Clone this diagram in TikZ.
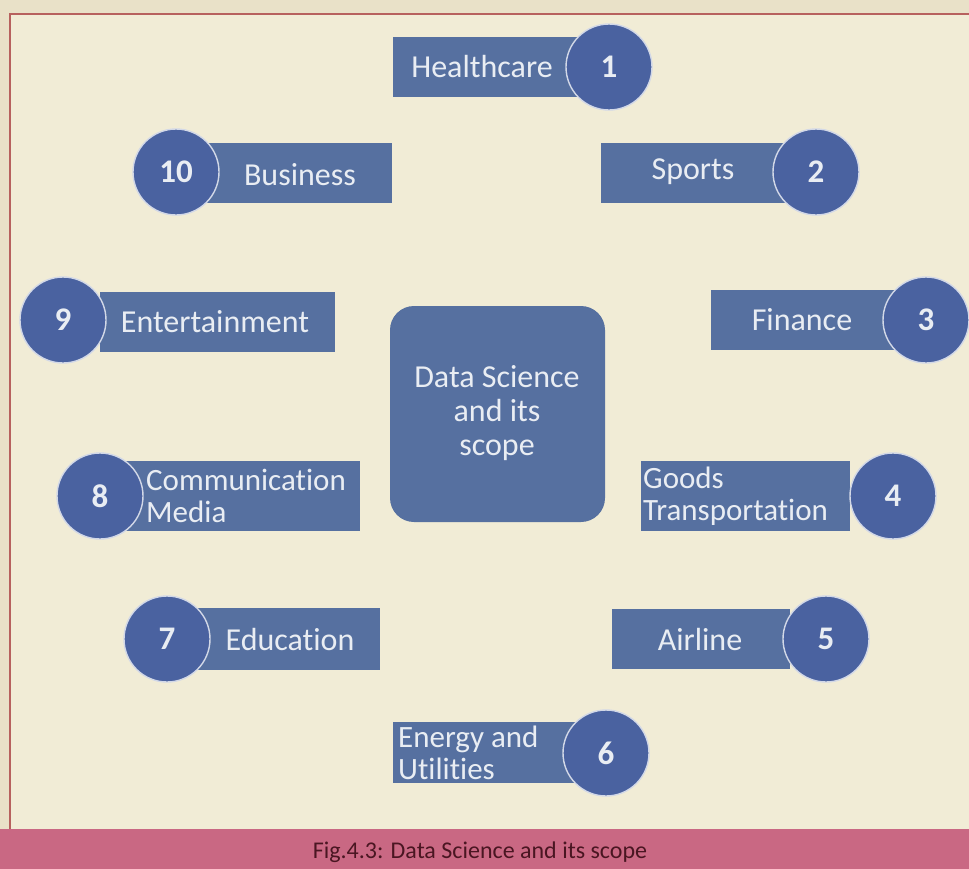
\documentclass[tikz,border=0pt]{standalone}
\usepackage{fontspec}
\setmainfont[Ligatures=NoCommon]{Carlito}
\definecolor{bg}{HTML}{F1ECD6}
\definecolor{bgout}{HTML}{E9E1C8}
\definecolor{boxc}{HTML}{5670A0}
\definecolor{circc}{HTML}{4A62A0}
\definecolor{framec}{HTML}{B7615E}
\definecolor{capbar}{HTML}{C96883}
\definecolor{captext}{HTML}{4A1622}
\definecolor{txt}{HTML}{E9EDF3}
\tikzset{
  bar/.style={fill=boxc, draw=none},
  numc/.style={circle, fill=circc, draw=white!75!circc, line width=1.4pt, minimum size=86pt, inner sep=0pt, text=txt, font=\fontsize{33}{33}\selectfont\bfseries},
  lbl/.style={text=txt, font=\fontsize{32}{32}\selectfont, inner sep=0pt},
  lbl2/.style={lbl, align=left, font=\fontsize{31}{32}\selectfont},
}
\begin{document}
\begin{tikzpicture}[x=1pt,y=-1pt]
\path[use as bounding box, fill=bgout] (0,0) rectangle (969,868);
\fill[bg] (10,14) rectangle (969,830);
\draw[framec, line width=2pt] (10,830) -- (10,14) -- (969,14);
% caption
\node[fill=capbar, minimum width=969pt, minimum height=40pt, inner sep=0pt, anchor=north west] (cap) at (0,829) {};
\node[text=captext, font=\fontsize{24}{24}\selectfont, inner sep=0pt] (captxt) at (480,852) {Fig.4.3: Data Science and its scope};
% center
\node[bar, rounded corners=24pt, minimum width=215pt, minimum height=216pt, inner sep=0pt] (center) at (497.5,414) {};
\node[lbl, align=center, font=\fontsize{32}{34}\selectfont] (centertxt) at (497,413) {Data Science\\and its\\scope};
% 1 Healthcare
\node[bar, minimum width=187pt, minimum height=60pt, inner sep=0pt] (r1) at (486.5,67) {};
\node[numc] (c1) at (609,67) {1};
\node[lbl] (t1) at (482,67) {Healthcare};
% 2 Sports
\node[bar, minimum width=189pt, minimum height=60pt, inner sep=0pt] (r2) at (695.5,173) {};
\node[numc] (c2) at (816,172) {2};
\node[lbl] (t2) at (693,172) {Sports};
% 3 Finance
\node[bar, minimum width=189pt, minimum height=60pt, inner sep=0pt] (r3) at (805.5,320) {};
\node[numc] (c3) at (926,320) {3};
\node[lbl] (t3) at (802,320) {Finance};
% 4 Goods Transportation
\node[bar, minimum width=209pt, minimum height=70pt, inner sep=0pt] (r4) at (745.5,496) {};
\node[numc] (c4) at (893,496) {4};
\node[lbl2, anchor=west] (t4) at (643,496) {Goods\\Transportation};
% 5 Airline
\node[bar, minimum width=178pt, minimum height=60pt, inner sep=0pt] (r5) at (701,639) {};
\node[numc] (c5) at (826,639) {5};
\node[lbl] (t5) at (700,639) {Airline};
% 6 Energy and Utilities
\node[bar, minimum width=182pt, minimum height=61pt, inner sep=0pt] (r6) at (484,752.5) {};
\node[numc] (c6) at (606,753) {6};
\node[lbl2, anchor=west] (t6) at (398,753) {Energy and\\Utilities};
% 7 Education
\node[bar, minimum width=190pt, minimum height=62pt, inner sep=0pt] (r7) at (285,639) {};
\node[numc] (c7) at (167,639) {7};
\node[lbl] (t7) at (290,639) {Education};
% 8 Communication Media
\node[bar, minimum width=237pt, minimum height=70pt, inner sep=0pt] (r8) at (241.5,496) {};
\node[numc] (c8) at (100,496) {8};
\node[lbl2, anchor=west] (t8) at (146,496) {Communication\\Media};
% 9 Entertainment
\node[bar, minimum width=235pt, minimum height=60pt, inner sep=0pt] (r9) at (217.5,322) {};
\node[numc] (c9) at (63,320) {9};
\node[lbl] (t9) at (215,322) {Entertainment};
% 10 Business
\node[bar, minimum width=192pt, minimum height=60pt, inner sep=0pt] (r10) at (296,173) {};
\node[numc] (c10) at (176,172) {10};
\node[lbl] (t10) at (300,175) {Business};
\end{tikzpicture}
\end{document}
